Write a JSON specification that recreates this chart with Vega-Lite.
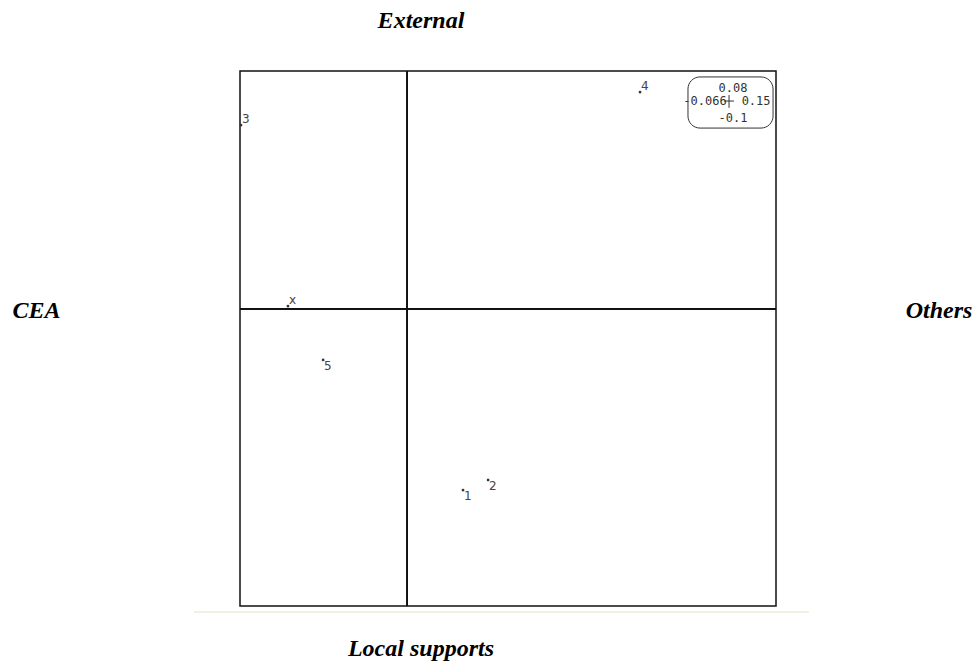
{
  "$schema": "https://vega.github.io/schema/vega-lite/v6.json",
  "width": 536,
  "height": 535,
  "autosize": {"type": "none"},
  "padding": {"left": 240, "top": 71, "right": 203, "bottom": 57},
  "background": "white",
  "config": {"view": {"stroke": "#111111", "strokeWidth": 1.5}},
  "datasets": {
    "points": [
      {"label": "3", "x": -0.0676, "y": 0.0618},
      {"label": "x", "x": -0.0485, "y": 0.0009},
      {"label": "5", "x": -0.0342, "y": -0.0172},
      {"label": "1", "x": 0.0227, "y": -0.061},
      {"label": "2", "x": 0.0329, "y": -0.0576},
      {"label": "4", "x": 0.0947, "y": 0.0729}
    ],
    "titles": [
      {"text": "External", "x": 0.0056, "y": 0.0945},
      {"text": "Local supports", "x": 0.0056, "y": -0.1168},
      {"text": "CEA", "x": -0.1508, "y": -0.0031},
      {"text": "Others", "x": 0.2163, "y": -0.0031}
    ],
    "legendBox": [{"x1": 0.1142, "x2": 0.1488, "y1": 0.0608, "y2": 0.078}],
    "legendText": [
      {"t": "0.08", "x": 0.1325, "y": 0.0743},
      {"t": "-0.066", "x": 0.1211, "y": 0.0699},
      {"t": "0.15", "x": 0.1419, "y": 0.0699},
      {"t": "-0.1", "x": 0.1325, "y": 0.0642}
    ],
    "crossV": [{"x": 0.1309, "y1": 0.0676, "y2": 0.0719}],
    "crossH": [{"x1": 0.1288, "x2": 0.1329, "y": 0.0699}],
    "baseLine": [{"x1": -0.0867, "x2": 0.1634, "y": -0.102}]
  },
  "layer": [
    {
      "data": {"name": "baseLine"},
      "mark": {"type": "rule", "color": "#ecebd9", "strokeWidth": 1.5},
      "encoding": {
        "x": {"field": "x1", "type": "quantitative", "scale": {"domain": [-0.068, 0.15], "nice": false, "zero": false}, "axis": null},
        "x2": {"field": "x2"},
        "y": {"field": "y", "type": "quantitative", "scale": {"domain": [-0.1, 0.08], "nice": false, "zero": false}, "axis": null}
      }
    },
    {
      "data": {"name": "points"},
      "mark": {"type": "rule", "color": "#111111", "strokeWidth": 1.2},
      "encoding": {"x": {"datum": 0, "type": "quantitative"}}
    },
    {
      "data": {"name": "points"},
      "mark": {"type": "rule", "color": "#111111", "strokeWidth": 1.2},
      "encoding": {"y": {"datum": 0, "type": "quantitative"}}
    },
    {
      "data": {"name": "points"},
      "mark": {"type": "point", "shape": "square", "filled": true, "size": 6, "color": "#333333", "opacity": 1},
      "encoding": {
        "x": {"field": "x", "type": "quantitative"},
        "y": {"field": "y", "type": "quantitative"}
      }
    },
    {
      "data": {"name": "points"},
      "transform": [{"filter": "indexof(['3','4','x'], datum.label) >= 0"}],
      "mark": {"type": "text", "font": "DejaVu Sans", "fontSize": 12, "color": "#444444", "align": "left", "baseline": "alphabetic", "dx": 1, "dy": -2},
      "encoding": {
        "x": {"field": "x", "type": "quantitative"},
        "y": {"field": "y", "type": "quantitative"},
        "text": {"field": "label"}
      }
    },
    {
      "data": {"name": "points"},
      "transform": [{"filter": "indexof(['3','4','x'], datum.label) < 0"}],
      "mark": {"type": "text", "font": "DejaVu Sans", "fontSize": 12, "color": "#444444", "align": "left", "baseline": "top", "dx": 1, "dy": 1},
      "encoding": {
        "x": {"field": "x", "type": "quantitative"},
        "y": {"field": "y", "type": "quantitative"},
        "text": {"field": "label"}
      }
    },
    {
      "data": {"name": "legendBox"},
      "mark": {"type": "rect", "fill": null, "fillOpacity": 0, "stroke": "#333333", "strokeWidth": 1, "cornerRadius": 12},
      "encoding": {
        "x": {"field": "x1", "type": "quantitative"},
        "x2": {"field": "x2"},
        "y": {"field": "y1", "type": "quantitative"},
        "y2": {"field": "y2"}
      }
    },
    {
      "data": {"name": "legendText"},
      "mark": {"type": "text", "font": "DejaVu Sans Mono", "fontSize": 12, "color": "#333333", "align": "center", "baseline": "middle"},
      "encoding": {
        "x": {"field": "x", "type": "quantitative"},
        "y": {"field": "y", "type": "quantitative"},
        "text": {"field": "t"}
      }
    },
    {
      "data": {"name": "crossV"},
      "mark": {"type": "rule", "color": "#333333", "strokeWidth": 1},
      "encoding": {
        "x": {"field": "x", "type": "quantitative"},
        "y": {"field": "y1", "type": "quantitative"},
        "y2": {"field": "y2"}
      }
    },
    {
      "data": {"name": "crossH"},
      "mark": {"type": "rule", "color": "#333333", "strokeWidth": 1},
      "encoding": {
        "x": {"field": "x1", "type": "quantitative"},
        "x2": {"field": "x2"},
        "y": {"field": "y", "type": "quantitative"}
      }
    },
    {
      "data": {"name": "titles"},
      "mark": {"type": "text", "font": "Liberation Serif", "fontSize": 24, "fontWeight": "bold", "fontStyle": "italic", "color": "#000000", "align": "center", "baseline": "alphabetic"},
      "encoding": {
        "x": {"field": "x", "type": "quantitative"},
        "y": {"field": "y", "type": "quantitative"},
        "text": {"field": "text"}
      }
    }
  ]
}
